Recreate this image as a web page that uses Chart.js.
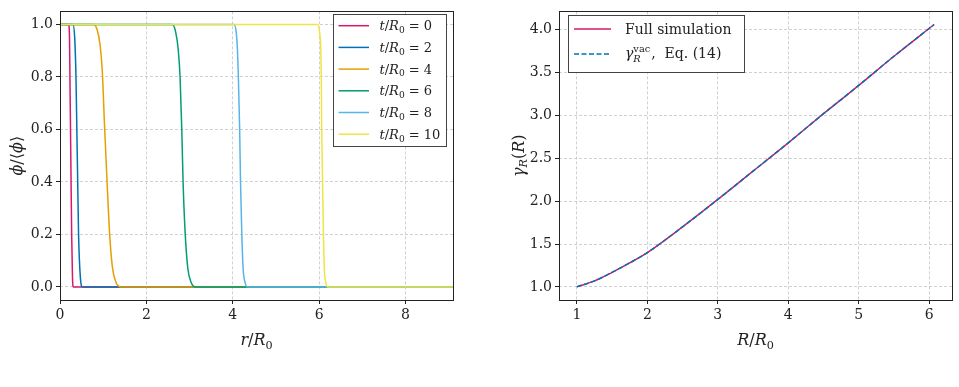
<!DOCTYPE html>
<html>
<head>
<meta charset="utf-8">
<script src="https://cdn.jsdelivr.net/npm/chart.js@4.4.1/dist/chart.umd.min.js"></script>
<style>
  body { margin: 0; background: #fff; }
  #wrap { position: relative; width: 959px; height: 387px; overflow: hidden; }
  canvas { position: absolute; top: 0; }
</style>
</head>
<body>
<div id="wrap">
  <canvas id="left" width="480" height="387" style="left:0"></canvas>
  <canvas id="right" width="479" height="387" style="left:480px"></canvas>
</div>
<script>
// ---- left panel: field profiles phi/<phi> vs r/R0 at several times ----
const rT0 = [0, 0.20, 0.22, 0.23, 0.25, 0.27, 0.29, 0.31, 9.1];
const phiT0 = [1, 1, 0.95, 0.8, 0.5, 0.2, 0.03, 0, 0];
const rT2 = [0, 0.30, 0.34, 0.37, 0.39, 0.41, 0.43, 0.47, 0.52, 9.1];
const phiT2 = [1, 1, 0.95, 0.8, 0.6, 0.4, 0.2, 0.04, 0, 0];
const rT4 = [0, 0.78, 0.86, 0.93, 0.98, 1.03, 1.09, 1.15, 1.21, 1.29, 1.42, 9.1];
const phiT4 = [1, 1, 0.98, 0.92, 0.82, 0.62, 0.4, 0.2, 0.08, 0.02, 0, 0];
const rT6 = [0, 2.60, 2.68, 2.74, 2.78, 2.82, 2.85, 2.90, 2.96, 3.03, 3.14, 9.1];
const phiT6 = [1, 1, 0.97, 0.9, 0.8, 0.6, 0.4, 0.2, 0.07, 0.02, 0, 0];
const rT8 = [0, 4.03, 4.08, 4.11, 4.13, 4.16, 4.18, 4.21, 4.24, 4.28, 4.34, 9.1];
const phiT8 = [1, 1, 0.97, 0.9, 0.8, 0.6, 0.4, 0.2, 0.07, 0.02, 0, 0];
const rT10 = [0, 5.97, 6.01, 6.04, 6.05, 6.06, 6.08, 6.10, 6.12, 6.15, 6.20, 9.1];
const phiT10 = [1, 1, 0.97, 0.9, 0.8, 0.6, 0.4, 0.2, 0.07, 0.02, 0, 0];
const timeLabels = ['0', '2', '4', '6', '8', '10'];
const rTicks = [0, 2, 4, 6, 8];
const phiTicks = [0, 0.2, 0.4, 0.6, 0.8, 1.0];

// ---- right panel: gamma_R(R) vs R/R0 ----
const bigR = [1, 1.25, 1.5, 1.75, 2, 2.5, 3, 3.5, 4, 4.5, 5, 5.5, 6.07];
const gammaFull = [1, 1.07, 1.17, 1.28, 1.40, 1.70, 2.02, 2.35, 2.68, 3.02, 3.35, 3.69, 4.06];
const gammaVac = [1, 1.07, 1.17, 1.28, 1.40, 1.70, 2.02, 2.35, 2.68, 3.02, 3.35, 3.69, 4.06];
const bigRTicks = [1, 2, 3, 4, 5, 6];
const gammaTicks = [1.0, 1.5, 2.0, 2.5, 3.0, 3.5, 4.0];

const FONT = '"DejaVu Serif", serif';
const INK = '#222';
const profileColors = ['#d8186c', '#0072b2', '#e69f00', '#009e73', '#56b4e9', '#f0e442'];

const pts = (xs, ys) => xs.map((x, i) => ({ x: x, y: ys[i] }));

// draw text with italic / subscript / superscript pieces
function segFont(s, size, small) {
  return (s.it ? 'italic ' : '') + (small ? size * 0.7 : size) + 'px ' + FONT;
}
function segWidth(ctx, s, size) {
  if (s.stack) {
    ctx.font = segFont({}, size, true);
    const a = ctx.measureText(s.sup).width;
    ctx.font = segFont({ it: true }, size, true);
    const b = ctx.measureText(s.sub).width;
    return Math.max(a, b) + 1;
  }
  ctx.font = segFont(s, size, s.sub || s.sup);
  return ctx.measureText(s.t).width;
}
function drawRich(ctx, segs, x, y, size, align) {
  const widths = segs.map(s => segWidth(ctx, s, size));
  const total = widths.reduce((a, b) => a + b, 0);
  let cx = align === 'center' ? x - total / 2 : x;
  ctx.textAlign = 'left';
  ctx.textBaseline = 'alphabetic';
  ctx.fillStyle = INK;
  segs.forEach((s, i) => {
    if (s.stack) {
      ctx.font = segFont({}, size, true);
      ctx.fillText(s.sup, cx, y - size * 0.42);
      ctx.font = segFont({ it: true }, size, true);
      ctx.fillText(s.sub, cx, y + size * 0.28);
    } else {
      ctx.font = segFont(s, size, s.sub || s.sup);
      const dy = s.sub ? size * 0.22 : (s.sup ? -size * 0.4 : 0);
      ctx.fillText(s.t, cx, y + dy);
    }
    cx += widths[i];
  });
}

function axis(min, max, ticks, fmt, size, isY) {
  return {
    type: 'linear',
    min: min,
    max: max,
    afterBuildTicks: s => { s.ticks = ticks.map(v => ({ value: v })); },
    afterFit: s => { if (isY) s.width = size; else s.height = size; },
    grid: {
      color: 'rgba(176,176,176,0.75)',
      lineWidth: 0.8,
      tickColor: INK,
      tickLength: 4,
      tickWidth: 1,
      tickBorderDash: []
    },
    border: { display: false, dash: [3, 2] },
    ticks: {
      color: INK,
      font: { family: FONT, size: 14 },
      padding: 3,
      maxRotation: 0,
      autoSkip: false,
      callback: v => fmt(v)
    }
  };
}

function deco(drawExtra) {
  return {
    id: 'deco',
    afterDraw(chart) {
      const { ctx, chartArea: a } = chart;
      ctx.save();
      ctx.strokeStyle = INK;
      ctx.lineWidth = 1;
      ctx.setLineDash([]);
      ctx.strokeRect(Math.round(a.left) + 0.5, Math.round(a.top) + 0.5,
        Math.round(a.right - a.left), Math.round(a.bottom - a.top));
      drawExtra(ctx, a);
      ctx.restore();
    }
  };
}

const common = {
  responsive: false,
  animation: false,
  devicePixelRatio: 1,
  plugins: { legend: { display: false }, tooltip: { enabled: false } },
  elements: { point: { radius: 0 } }
};

// ---- left chart ----
const profiles = [
  pts(rT0, phiT0), pts(rT2, phiT2), pts(rT4, phiT4),
  pts(rT6, phiT6), pts(rT8, phiT8), pts(rT10, phiT10)
];

new Chart(document.getElementById('left'), {
  type: 'line',
  data: {
    datasets: profiles.map((d, i) => ({
      label: 't/R0 = ' + timeLabels[i],
      data: d,
      borderColor: profileColors[i],
      borderWidth: 1.5,
      cubicInterpolationMode: 'monotone',
      fill: false,
      order: profiles.length - i
    }))
  },
  options: Object.assign({}, common, {
    layout: { padding: { top: 7, right: 27, left: 0, bottom: 0 } },
    scales: {
      x: axis(0, 9.1, rTicks, v => String(v), 87, false),
      y: axis(-0.05, 1.05, phiTicks, v => v.toFixed(1), 60, true)
    }
  }),
  plugins: [deco((ctx, a) => {
    // axis titles
    drawRich(ctx, [{ t: 'r', it: true }, { t: '/' }, { t: 'R', it: true }, { t: '0', sub: true }],
      (a.left + a.right) / 2, 345, 16, 'center');
    ctx.save();
    ctx.translate(16, (a.top + a.bottom) / 2);
    ctx.rotate(-Math.PI / 2);
    drawRich(ctx, [{ t: 'ϕ', it: true }, { t: '/⟨' }, { t: 'ϕ', it: true }, { t: '⟩' }], 0, 5.5, 16, 'center');
    ctx.restore();
    // legend
    ctx.fillStyle = '#fff';
    ctx.fillRect(333.5, 14.5, 113, 132);
    ctx.strokeStyle = '#444';
    ctx.strokeRect(333.5, 14.5, 113, 132);
    timeLabels.forEach((lab, i) => {
      const y = 25.7 + i * 21.7;
      ctx.strokeStyle = profileColors[i];
      ctx.lineWidth = 1.5;
      ctx.beginPath();
      ctx.moveTo(338.5, y);
      ctx.lineTo(369, y);
      ctx.stroke();
      drawRich(ctx, [{ t: 't', it: true }, { t: '/' }, { t: 'R', it: true }, { t: '0', sub: true }, { t: ' = ' + lab }],
        379.5, y + 4.5, 13, 'left');
    });
  })]
});

// ---- right chart ----
new Chart(document.getElementById('right'), {
  type: 'line',
  data: {
    datasets: [
      {
        label: 'Full simulation',
        data: pts(bigR, gammaFull),
        borderColor: '#d8186c',
        borderWidth: 1.5,
        cubicInterpolationMode: 'monotone',
        order: 2
      },
      {
        label: 'gamma_R^vac, Eq. (14)',
        data: pts(bigR, gammaVac),
        borderColor: '#0072b2',
        borderWidth: 1.5,
        borderDash: [5, 2.5],
        cubicInterpolationMode: 'monotone',
        order: 1
      }
    ]
  },
  options: Object.assign({}, common, {
    layout: { padding: { top: 7, right: 7, left: 0, bottom: 0 } },
    scales: {
      x: axis(0.7465, 6.3235, bigRTicks, v => String(v), 87, false),
      y: axis(0.847, 4.213, gammaTicks, v => v.toFixed(1), 79, true)
    }
  }),
  plugins: [deco((ctx, a) => {
    drawRich(ctx, [{ t: 'R', it: true }, { t: '/' }, { t: 'R', it: true }, { t: '0', sub: true }],
      (a.left + a.right) / 2, 345, 16, 'center');
    ctx.save();
    ctx.translate(38, (a.top + a.bottom) / 2);
    ctx.rotate(-Math.PI / 2);
    drawRich(ctx, [{ t: 'γ', it: true }, { t: 'R', it: true, sub: true }, { t: '(' }, { t: 'R', it: true }, { t: ')' }],
      0, 5.5, 16, 'center');
    ctx.restore();
    // legend
    ctx.fillStyle = '#fff';
    ctx.fillRect(88.5, 15.5, 176, 57);
    ctx.strokeStyle = '#444';
    ctx.lineWidth = 1;
    ctx.strokeRect(88.5, 15.5, 176, 57);
    ctx.lineWidth = 1.5;
    ctx.strokeStyle = '#d8186c';
    ctx.beginPath(); ctx.moveTo(94, 29); ctx.lineTo(131, 29); ctx.stroke();
    ctx.strokeStyle = '#0072b2';
    ctx.setLineDash([5, 2.5]);
    ctx.beginPath(); ctx.moveTo(94, 54); ctx.lineTo(131, 54); ctx.stroke();
    ctx.setLineDash([]);
    drawRich(ctx, [{ t: 'Full simulation' }], 145, 34, 14, 'left');
    drawRich(ctx, [{ t: 'γ', it: true }, { stack: true, sup: 'vac', sub: 'R' }, { t: ',  Eq. (14)' }], 145, 58, 14, 'left');
  })]
});
</script>
</body>
</html>
